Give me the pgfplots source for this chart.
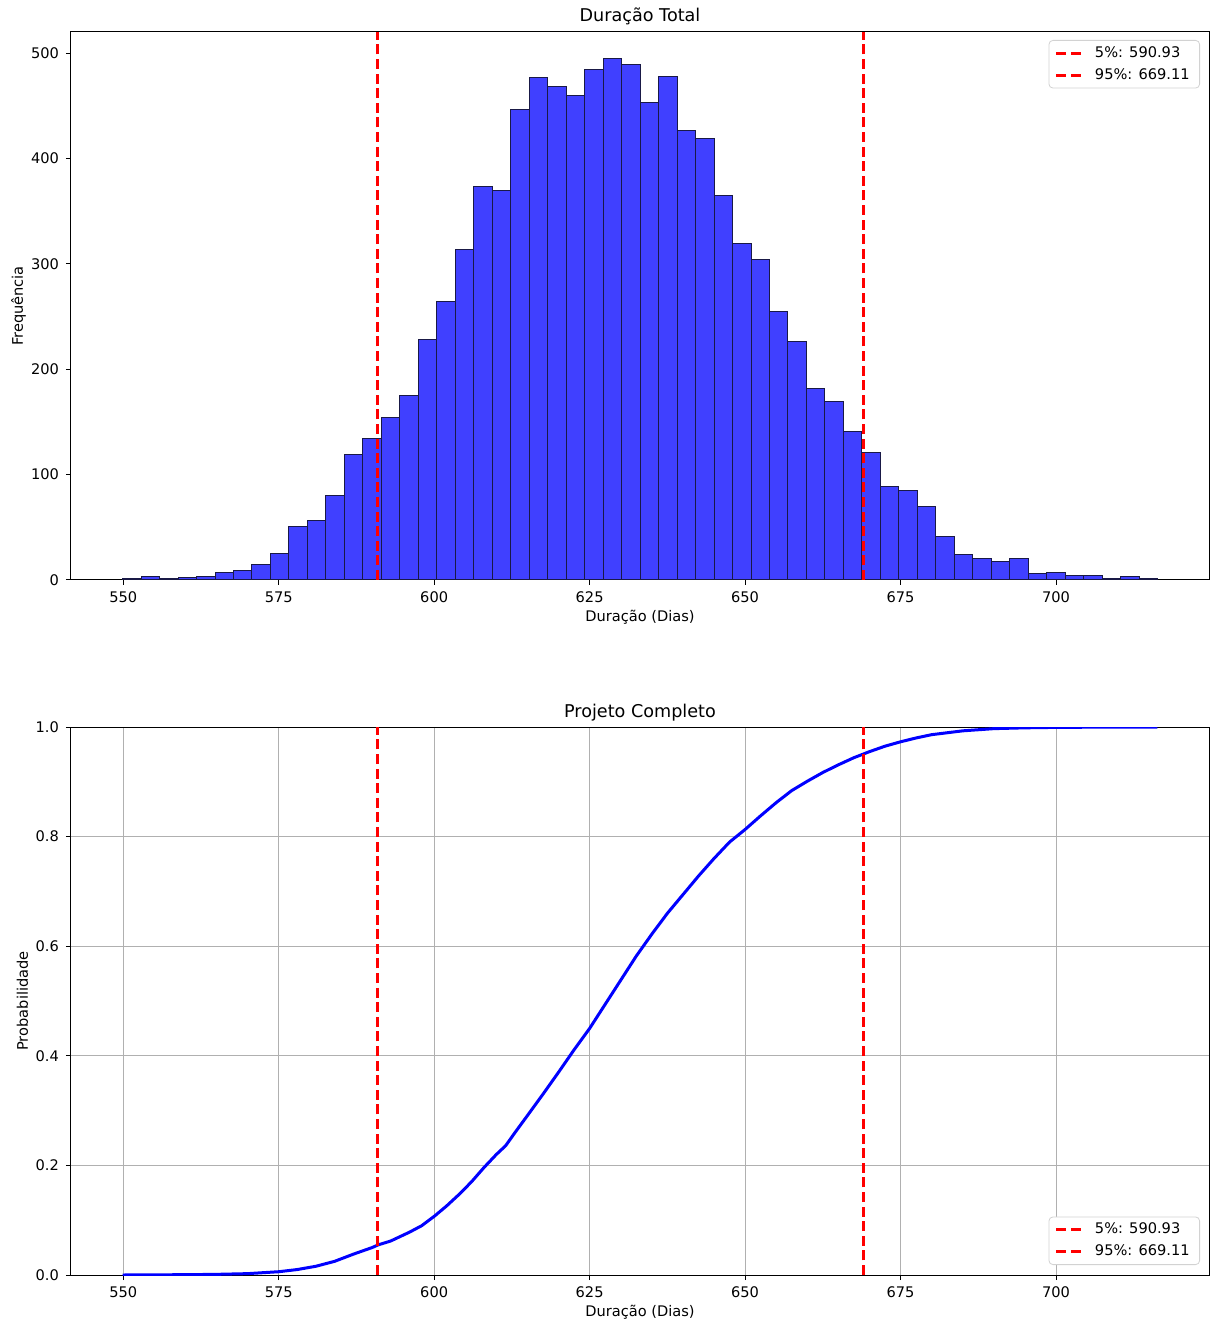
\documentclass[border=0pt]{standalone}
\usepackage{fontspec}
\setmainfont{DejaVu Sans}
\usepackage{pgfplots}
\pgfplotsset{compat=1.18}
\definecolor{histfill}{RGB}{64,64,255}
\definecolor{histedge}{RGB}{25,25,70}
\definecolor{gridgray}{RGB}{176,176,176}
\newcommand{\tickfont}{\fontsize{7.3}{8.8}\selectfont}
\newcommand{\titlefont}{\fontsize{8.8}{10.5}\selectfont}
\pgfplotsset{
  common/.style={
    scale only axis, width=569pt, height=274pt,
    xmin=541.6, xmax=724.6,
    xtick={550,575,600,625,650,675,700},
    tick pos=left,
    tick align=outside, major tick length=2.5pt,
    tick style={black, line width=0.5pt},
    axis line style={line width=0.5pt},
    ticklabel style={font=\tickfont},
    /pgf/number format/assume math mode=true,
    xticklabel style={/pgf/number format/1000 sep={}},
    label style={font=\tickfont},
    xlabel={Duração (Dias)},
    xlabel style={at={([yshift=-20.5pt]axis description cs:0.5,0)}, anchor=base},
    every axis title/.style={font=\titlefont, at={([yshift=5pt]axis description cs:0.5,1)}, anchor=base},
    legend style={font=\tickfont, draw=gray!35, rounded corners=2pt, fill=white,
      inner xsep=3pt, inner ysep=1pt, row sep=0pt, cells={anchor=west}},
    legend image code/.code={\draw[#1] (0pt,0pt) -- (14pt,0pt);},
    legend cell align=left,
  },
  vline/.style={red, line width=1.5pt, dash pattern=on 5pt off 2.3pt},
}
\begin{document}
\begin{tikzpicture}
\begin{axis}[common,
  at={(0,0)}, anchor=south west,
  ymin=0, ymax=520,
  ytick={0,100,200,300,400,500},
  title={Duração Total},
  ylabel={Frequência},
  ylabel style={at={([xshift=-24pt]axis description cs:0,0.5)}, anchor=base},
  legend style={at={([xshift=-4.5pt,yshift=-4pt]axis description cs:1,1)}, anchor=north east},
]
\addplot[ybar interval, fill=histfill, draw=histedge, line width=0.5pt, forget plot] coordinates {
(549.90,1) (552.87,3) (555.84,1) (558.82,2) (561.79,3) (564.76,7) (567.73,9) (570.70,15)
(573.68,25) (576.65,51) (579.62,56) (582.59,80) (585.56,119) (588.54,134) (591.51,154)
(594.48,175) (597.45,228) (600.42,264) (603.40,314) (606.37,373) (609.34,370) (612.31,446)
(615.28,477) (618.26,468) (621.23,460) (624.20,484) (627.17,495) (630.14,489) (633.12,453)
(636.09,478) (639.06,427) (642.03,419) (645.00,365) (647.98,319) (650.95,304) (653.92,255)
(656.89,226) (659.86,182) (662.84,169) (665.81,141) (668.78,121) (671.75,89) (674.72,85)
(677.70,70) (680.67,41) (683.64,24) (686.61,20) (689.58,18) (692.56,20) (695.53,6)
(698.50,7) (701.47,4) (704.44,4) (707.42,1) (710.39,3) (713.36,1) (716.33,1)
};
\addplot[vline] coordinates {(590.93,0) (590.93,520)};
\addlegendentry{\hspace{2.5pt}5\%: 590.93}
\addplot[vline] coordinates {(669.11,0) (669.11,520)};
\addlegendentry{\hspace{2.5pt}95\%: 669.11}
\end{axis}

\begin{axis}[common,
  at={(0,-347.5pt)}, anchor=south west,
  ymin=0, ymax=1,
  ytick={0,0.2,0.4,0.6,0.8,1.0},
  yticklabel style={/pgf/number format/.cd, fixed, fixed zerofill, precision=1},
  grid=major, major grid style={gridgray, line width=0.5pt},
  title={Projeto Completo},
  ylabel={Probabilidade},
  ylabel style={at={([xshift=-21.5pt]axis description cs:0,0.5)}, anchor=base},
  legend style={at={([xshift=-4.5pt,yshift=5pt]axis description cs:1,0)}, anchor=south east},
]
\addplot[blue, line width=1.5pt, forget plot] coordinates {
(549.9,0.0000) (555,0.0003) (560,0.0006) (565,0.0012) (570,0.0025) (575,0.006)
(578,0.010) (581,0.016) (584,0.025) (587,0.038) (590,0.050) (591,0.055) (593,0.062)
(596,0.078) (598,0.090) (600,0.107) (602,0.126) (604,0.147) (606,0.170) (608,0.196)
(610,0.220) (611.5,0.236) (613,0.260) (615,0.291) (617.5,0.330) (620,0.370)
(622.5,0.411) (625,0.450) (627.5,0.494) (630,0.538) (632.5,0.582) (635,0.622)
(637.5,0.660) (640,0.694) (642.5,0.728) (645,0.760) (647.5,0.790) (650,0.813)
(652.5,0.838) (655,0.862) (657.5,0.884) (660,0.901) (662.5,0.917) (665,0.931)
(667.5,0.944) (670,0.955) (672.5,0.965) (675,0.973) (677.5,0.980) (680,0.986)
(685,0.993) (690,0.997) (695,0.9985) (700,0.9993) (705,0.9996) (710,0.9998) (716.3,1.0)
};
\addplot[vline] coordinates {(590.93,0) (590.93,1)};
\addlegendentry{\hspace{2.5pt}5\%: 590.93}
\addplot[vline] coordinates {(669.11,0) (669.11,1)};
\addlegendentry{\hspace{2.5pt}95\%: 669.11}
\end{axis}
\pgfresetboundingbox
\path[use as bounding box] (-35.5pt,-370.5pt) rectangle (570pt,290pt);
\end{tikzpicture}
\end{document}
